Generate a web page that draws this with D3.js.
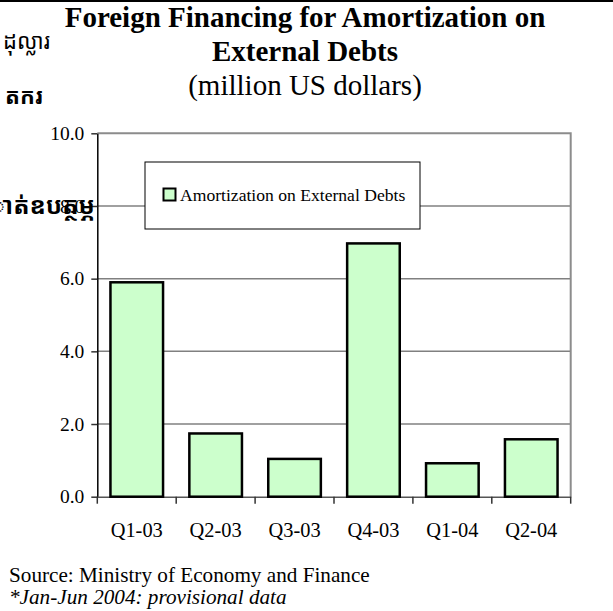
<!DOCTYPE html>
<html>
<head>
<meta charset="utf-8">
<script src="https://cdn.jsdelivr.net/npm/d3@7"></script>
<style>
  body { margin: 0; background: #fff; }
  svg { display: block; font-family: "Liberation Serif", "Times New Roman", serif; }
</style>
</head>
<body>
<svg id="chart" width="613" height="611"></svg>
<script>
// data
const categories = ["Q1-03", "Q2-03", "Q3-03", "Q4-03", "Q1-04", "Q2-04"];
const amortization = [5.9, 1.74, 1.04, 6.97, 0.92, 1.58];
const yTicks = [0, 2, 4, 6, 8, 10];
const seriesName = "Amortization on External Debts";
const titleLines = ["Foreign Financing for Amortization on", "External Debts"];
const subtitle = "(million US dollars)";
const notes = ["Source: Ministry of Economy and Finance", "*Jan-Jun 2004: provisional data"];
// khmer text from the page behind the chart (cut at left edge)
const khmerBits = ["ដុល្លារ", "តករ", "ាត់ឧបត្ថម្ភ"];

const svg = d3.select("#chart");
const plot = { left: 97.3, right: 570.7, top: 133.3, bottom: 496.7 };

const x = d3.scaleBand()
  .domain(categories)
  .range([plot.left, plot.right])
  .paddingInner(1 / 3)
  .paddingOuter(1 / 6);

const y = d3.scaleLinear()
  .domain([0, 10])
  .range([plot.bottom, plot.top]);

// top rule of the page
svg.append("line")
  .attr("x1", 0).attr("x2", 613)
  .attr("y1", 1).attr("y2", 1)
  .attr("stroke", "#000").attr("stroke-width", 2);

// title
const title = svg.append("g").attr("text-anchor", "middle");
title.selectAll("text.t")
  .data(titleLines)
  .enter().append("text")
  .attr("class", "t")
  .attr("x", 305)
  .attr("y", (d, i) => 27 + i * 34)
  .attr("font-size", 29)
  .attr("font-weight", "bold")
  .text(d => d);
title.append("text")
  .attr("x", 305).attr("y", 95)
  .attr("font-size", 29)
  .text(subtitle);

// gridlines
svg.append("g")
  .selectAll("line")
  .data(yTicks.filter(d => d > 0 && d < 10))
  .enter().append("line")
  .attr("x1", plot.left).attr("x2", plot.right)
  .attr("y1", d => y(d)).attr("y2", d => y(d))
  .attr("stroke", "#808080").attr("stroke-width", 1.5);

// plot border top + right
svg.append("path")
  .attr("d", `M${plot.left},${plot.top}H${plot.right}V${plot.bottom}`)
  .attr("fill", "none")
  .attr("stroke", "#8c8c8c").attr("stroke-width", 2);

// y axis
const yAxis = svg.append("g")
  .attr("transform", `translate(${plot.left},0)`)
  .call(d3.axisLeft(y).tickValues(yTicks).tickFormat(d3.format(".1f")).tickSize(6).tickSizeOuter(0).tickPadding(7));
yAxis.select(".domain").attr("stroke", "#000").attr("stroke-width", 1.5);
yAxis.selectAll(".tick line").attr("stroke", "#333").attr("stroke-width", 1.5);
yAxis.selectAll(".tick text")
  .attr("font-family", "Liberation Serif, serif")
  .attr("font-size", 19.5).attr("fill", "#000");

// x axis labels (ticks drawn at band edges below)
const xAxis = svg.append("g")
  .attr("transform", `translate(0,${plot.bottom})`)
  .call(d3.axisBottom(x).tickSize(0).tickPadding(26));
xAxis.select(".domain").attr("stroke", "#555").attr("stroke-width", 1.5);
xAxis.selectAll(".tick text")
  .attr("font-family", "Liberation Serif, serif")
  .attr("font-size", 20.4).attr("fill", "#000");

const edges = categories.map(c => x(c) - x.step() * x.paddingInner() / 2).concat([plot.right]);
svg.append("g")
  .selectAll("line")
  .data(edges)
  .enter().append("line")
  .attr("x1", d => d).attr("x2", d => d)
  .attr("y1", plot.bottom).attr("y2", plot.bottom + 7)
  .attr("stroke", "#333").attr("stroke-width", 1.5);

// bars
svg.append("g")
  .selectAll("rect")
  .data(amortization)
  .enter().append("rect")
  .attr("x", (d, i) => x(categories[i]))
  .attr("y", d => y(d))
  .attr("width", x.bandwidth())
  .attr("height", d => y(0) - y(d))
  .attr("fill", "#ccffcc")
  .attr("stroke", "#000")
  .attr("stroke-width", 2.5);

// legend
const legend = svg.append("g");
legend.append("rect")
  .attr("x", 145).attr("y", 162)
  .attr("width", 275).attr("height", 67)
  .attr("fill", "#fff").attr("stroke", "#000").attr("stroke-width", 1);
legend.append("rect")
  .attr("x", 163.5).attr("y", 188.5)
  .attr("width", 12).attr("height", 12)
  .attr("fill", "#ccffcc").attr("stroke", "#000").attr("stroke-width", 2);
legend.append("text")
  .attr("x", 180).attr("y", 201)
  .attr("font-size", 17.6)
  .text(seriesName);

// khmer fragments
const kh = svg.append("g")
  .attr("font-family", "'Noto Sans Khmer', 'Khmer OS', sans-serif")
  .attr("text-anchor", "end")
  .attr("fill", "#000");
kh.append("text").attr("x", 50).attr("y", 49).attr("font-size", 22).text(khmerBits[0]);
kh.append("text").attr("x", 43).attr("y", 104).attr("font-size", 22).attr("font-weight", "bold").text(khmerBits[1]);
kh.append("text").attr("x", 95).attr("y", 214).attr("font-size", 24).attr("font-weight", "bold").text(khmerBits[2]);

// notes
svg.append("text")
  .attr("x", 9).attr("y", 582)
  .attr("font-size", 21.2)
  .text(notes[0]);
svg.append("text")
  .attr("x", 9).attr("y", 604)
  .attr("font-size", 21.2)
  .attr("font-style", "italic")
  .text(notes[1]);
</script>
</body>
</html>
